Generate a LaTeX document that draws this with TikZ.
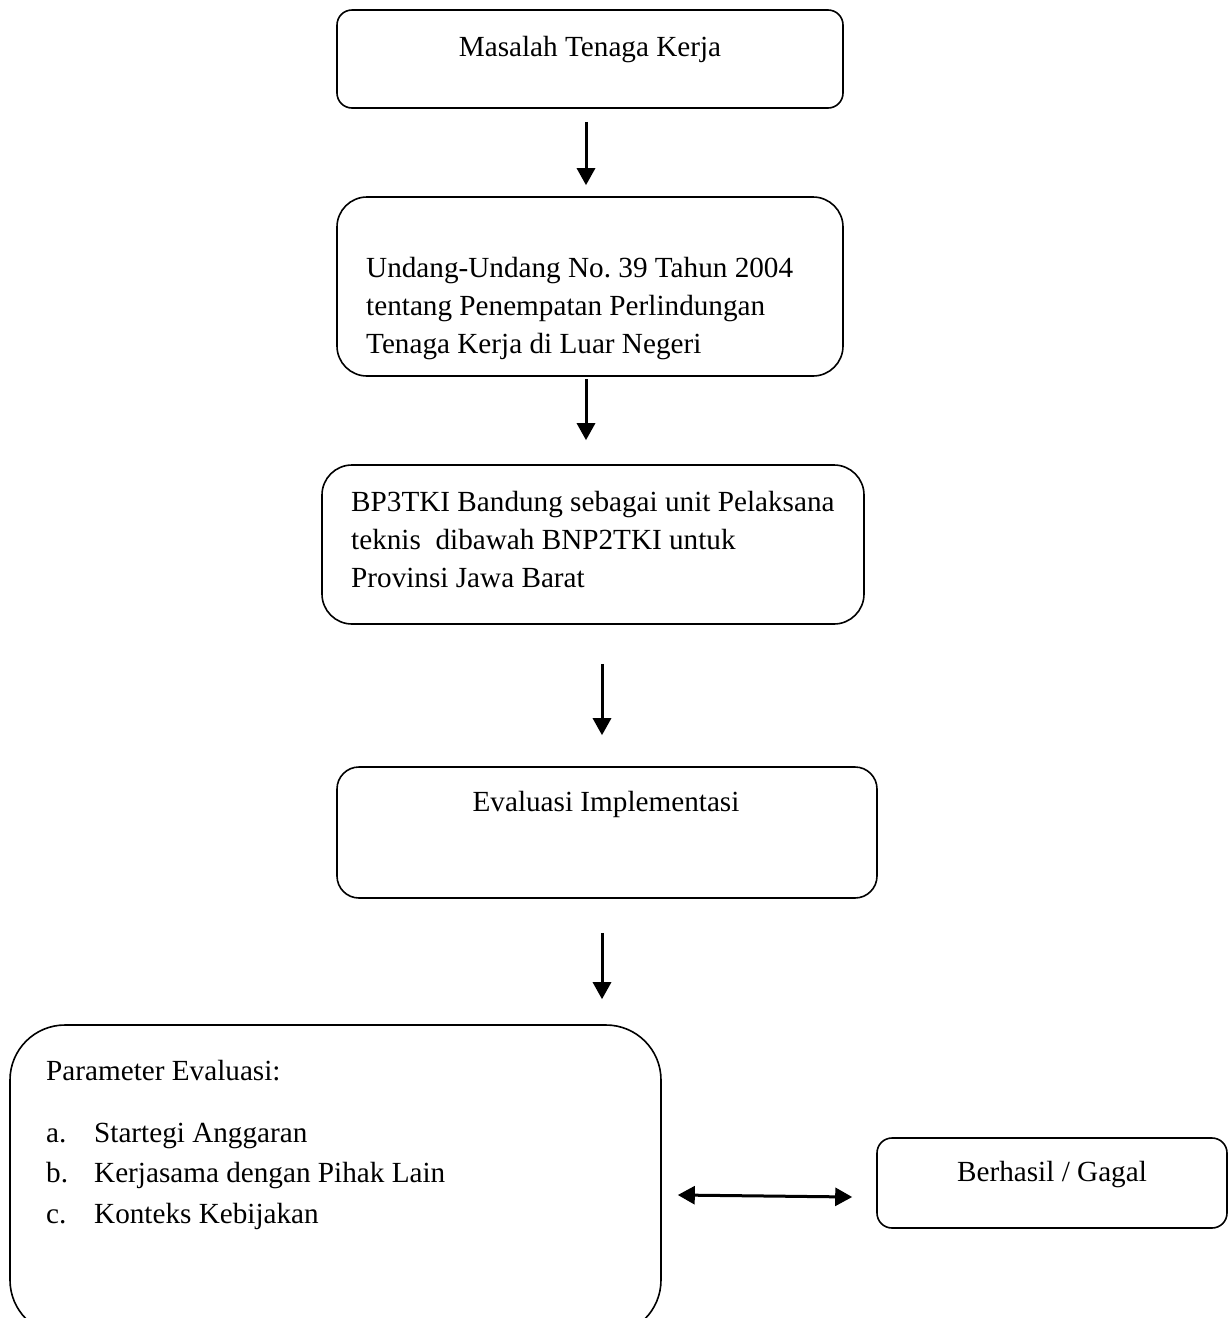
\documentclass[tikz,border=0pt]{standalone}
\usepackage{fontspec}
\setmainfont{Liberation Serif}
\usepackage{tikz}
\usetikzlibrary{arrows.meta}

\begin{document}
\begin{tikzpicture}[x=1pt, y=-1pt,
    box/.style={
        rectangle, draw=black, line width=1.6pt, fill=white, inner sep=0pt
    },
    txt/.style={
        font=\fontsize{29.2}{38}\selectfont, inner sep=0pt, align=flush left
    },
    arr/.style={-{Triangle[length=17pt, width=18pt]}, line width=3pt},
    darr/.style={{Triangle[length=17pt, width=18pt]}-{Triangle[length=17pt, width=18pt]}, line width=3pt}
]
\useasboundingbox (0,0) rectangle (1232,1318);

% Boxes
\node[box, minimum width=506pt, minimum height=98pt, rounded corners=15pt] (masalah) at (590,59) {};
\node[box, minimum width=506pt, minimum height=179pt, rounded corners=30pt] (uu) at (590,286.5) {};
\node[box, minimum width=542pt, minimum height=159pt, rounded corners=30pt] (bp) at (593,544.5) {};
\node[box, minimum width=540pt, minimum height=131pt, rounded corners=22pt] (eval) at (607,832.5) {};
\node[box, minimum width=651pt, minimum height=310pt, rounded corners=55pt] (param) at (335.5,1180) {};
\node[box, minimum width=350pt, minimum height=90pt, rounded corners=15pt] (hasil) at (1052,1183) {};

% Texts
\node[txt, anchor=base] (tmasalah) at (590,56) {Masalah Tenaga Kerja};
\node[txt, anchor=base west, text width=470pt] (tuu) at (366,277)
    {Undang-Undang No.\ 39 Tahun 2004\\tentang Penempatan Perlindungan\\Tenaga Kerja di Luar Negeri};
\node[txt, anchor=base west, text width=520pt] (tbp) at (351,511)
    {BP3TKI Bandung sebagai unit Pelaksana\\teknis\ \ dibawah BNP2TKI untuk\\Provinsi Jawa Barat};
\node[txt, anchor=base] (teval) at (606,811) {Evaluasi Implementasi};
\node[txt, anchor=base west] (tparam) at (46,1080) {Parameter Evaluasi:};
\node[txt, anchor=base west, text width=560pt, font=\fontsize{29.2}{40.5}\selectfont] (tlist) at (46,1142)
    {\makebox[48pt][l]{a.}Startegi Anggaran\\
     \makebox[48pt][l]{b.}Kerjasama dengan Pihak Lain\\
     \makebox[48pt][l]{c.}Konteks Kebijakan};
\node[txt, anchor=base] (thasil) at (1052,1181) {Berhasil / Gagal};

% Arrows
\draw[arr] ([xshift=-4pt, yshift=-13pt]masalah.south) -- ([xshift=-4pt, yshift=11pt]uu.north);
\draw[arr] ([xshift=-4pt, yshift=-2pt]uu.south) -- ([xshift=-7pt, yshift=24pt]bp.north);
\draw[arr] ([xshift=9pt, yshift=-39pt]bp.south) -- ([xshift=-5pt, yshift=31pt]eval.north);
\draw[arr] ([xshift=-5pt, yshift=-34pt]eval.south) -- ([xshift=266.5pt, yshift=25pt]param.north);
\draw[darr] ([xshift=16pt, yshift=-15pt]param.east) -- ([xshift=-24pt, yshift=-14pt]hasil.west);

\end{tikzpicture}
\end{document}
